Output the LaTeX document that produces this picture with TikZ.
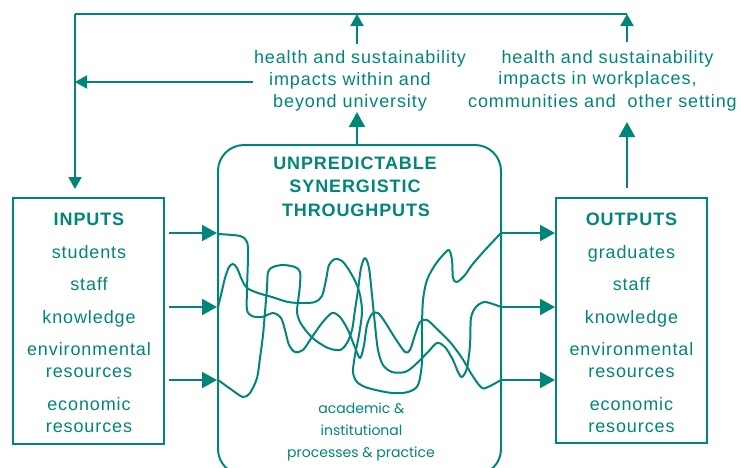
\documentclass[tikz,border=0pt]{standalone}
\usepackage{fontspec}
\setmainfont{Liberation Sans}[LetterSpace=5]
\newfontfamily\handfont{Poppins}
\usetikzlibrary{arrows.meta}
\definecolor{tealc}{RGB}{0,133,120}
\tikzset{
  box/.style={draw=tealc, line width=2pt, inner sep=0pt},
  lbl/.style={text=tealc, inner sep=0pt, anchor=base, font=\fontsize{18}{21}\selectfont},
  head/.style={lbl, font=\fontsize{18}{21}\selectfont\bfseries},
  hand/.style={text=tealc, inner sep=0pt, anchor=base, font=\handfont\fontsize{14}{17}\selectfont},
  arr/.style={draw=tealc, line width=2pt, -{Triangle[length=15pt,width=16pt]}},
  arrs/.style={draw=tealc, line width=2pt, -{Triangle[length=12pt,width=13pt]}},
  loopline/.style={draw=tealc, line width=2pt},
  strand/.style={draw=tealc, line width=2pt, line join=round, line cap=round}
}
\begin{document}
\begin{tikzpicture}[x=1pt,y=-1pt]
\useasboundingbox (0,0) rectangle (741,467);
\clip (0,0) rectangle (741,467);

% boxes
\node[box, minimum width=151pt, minimum height=246pt] (inbox) at (88.5,321) {};
\node[box, minimum width=151pt, minimum height=245pt] (outbox) at (631.5,320.5) {};
\node[box, rounded corners=26pt, minimum width=283pt, minimum height=330pt] (thru) at (359.5,310) {};

% inputs text
\node[head] (inh) at (89,225) {INPUTS};
\node[lbl] (in1) at (89,258) {students};
\node[lbl] (in2) at (89,290) {staff};
\node[lbl] (in3) at (89,323) {knowledge};
\node[lbl] (in4) at (89,355.5) {environmental};
\node[lbl] (in5) at (89,377) {resources};
\node[lbl] (in6) at (89,410.5) {economic};
\node[lbl] (in7) at (89,432) {resources};

% outputs text
\node[head] (outh) at (631.5,225) {OUTPUTS};
\node[lbl] (out1) at (631.5,258) {graduates};
\node[lbl] (out2) at (631.5,290) {staff};
\node[lbl] (out3) at (631.5,323) {knowledge};
\node[lbl] (out4) at (631.5,355.5) {environmental};
\node[lbl] (out5) at (631.5,377) {resources};
\node[lbl] (out6) at (631.5,410.5) {economic};
\node[lbl] (out7) at (631.5,432) {resources};

% throughput text
\node[head] (th1) at (355,169.5) {UNPREDICTABLE};
\node[head] (th2) at (355,192.5) {SYNERGISTIC};
\node[head] (th3) at (356,216) {THROUGHPUTS};
\node[hand] (bt1) at (361.5,413) {academic \&};
\node[hand] (bt2) at (361.5,435) {institutional};
\node[hand] (bt3) at (361,457) {processes \& practice};

% impact texts
\node[lbl] (ia1) at (360,63) {health and sustainability};
\node[lbl] (ia2) at (350,85) {impacts within and};
\node[lbl] (ia3) at (350,107.5) {beyond university};
\node[lbl] (ib1) at (607.5,63) {health and sustainability};
\node[lbl] (ib2) at (597.5,84.5) {impacts in workplaces,};
\node[lbl, anchor=base west] (ib3) at (468,107) {communities and~ other setting};

% feedback loop coordinates
\coordinate (ltop) at (75,14);
\coordinate (rtop) at (627,14);
\coordinate (mtop) at (357,14);
\coordinate (ldown) at (75,189);
\coordinate (lmid) at (75,82);
\coordinate (ia2w) at (253,82);
\coordinate (ia1n) at (357,44);
\coordinate (ib1n) at (627,42);
\coordinate (thn) at (357,146);
\coordinate (ia3s) at (357,112);
\coordinate (outn) at (627,188);
\coordinate (ib3s) at (627,122);

\draw[loopline] (ltop) -- (rtop);
\draw[arrs] (ltop) -- (ldown);
\draw[arrs] (ia2w) -- (lmid);
\draw[arrs] (ia1n) -- (mtop);
\draw[arrs] (ib1n) -- (rtop);
\draw[arr] (thn) -- (ia3s);
\draw[arr] (outn) -- (ib3s);

% input and output arrows
\foreach \y in {233,307,380}{
  \draw[arr] ([xshift=4pt]inbox.east |- 0,\y) -- (thru.west |- 0,\y);
  \draw[arr] (thru.east |- 0,\y) -- (outbox.west |- 0,\y);
}

% strands
\draw[strand] plot[smooth, tension=0.5] coordinates {
 (218,234) (240,236) (247,242) (248,255) (247,290) (247,310) (252,316) (262,317)
 (273,313) (281,318) (285,330) (289,345) (295,352) (303,350) (312,337) (322,323)
 (332,313) (340,317) (348,330) (354,345) (360,358) (364,345) (367,325) (372,314)
 (378,313) (385,322) (395,338) (405,352) (410,350) (415,335) (420,322) (427,320)
 (437,329) (450,342) (462,358) (472,375) (482,388) (490,386) (501,380)};
\draw[strand] plot[smooth, tension=0.5] coordinates {
 (218,307) (221,295) (225,278) (229,267) (233,264) (237,268) (242,280) (247,288)
 (258,293) (272,297) (288,302) (303,303) (315,302) (322,296) (326,280) (329,265)
 (335,259) (342,261) (349,270) (356,283) (360,295) (362,312) (359,335) (355,355)
 (353,372) (357,382) (368,388) (392,393) (408,392) (418,385) (422,362) (422,328)
 (423,300) (427,280) (435,265) (443,255) (449,250) (452,260) (453,278) (457,282)
 (465,275) (472,265) (485,250) (501,233)};
\draw[strand] plot[smooth, tension=0.5] coordinates {
 (218,380) (232,390) (243,397) (250,393) (257,378) (260,358) (263,335) (265,312)
 (267,288) (268,272) (273,267) (283,265) (295,267) (300,272) (300,285) (298,302)
 (297,312) (300,322) (307,332) (315,340) (328,348) (340,350) (347,343) (352,330)
 (355,310) (358,290) (361,268) (365,258) (369,268) (372,295) (375,325) (378,350)
 (383,365) (392,372) (405,372) (415,365) (428,352) (437,343) (445,347) (453,360)
 (458,372) (462,377) (467,368) (470,345) (471,318) (476,307) (485,302) (501,307)};
\end{tikzpicture}
\end{document}
